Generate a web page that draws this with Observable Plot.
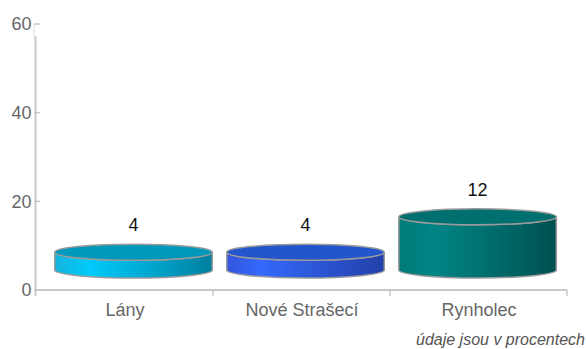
<!DOCTYPE html>
<html><head><meta charset="utf-8">
<script src="https://cdn.jsdelivr.net/npm/d3@7"></script>
<script src="https://cdn.jsdelivr.net/npm/@observablehq/plot@0.6"></script>
<style>
html,body{margin:0;padding:0;background:#fff;overflow:hidden;font-family:"Liberation Sans",Arial,sans-serif;}
#chart{width:586px;height:331px;}
#caption{width:585px;font-style:italic;font-size:16px;line-height:18px;color:#555;text-align:right;white-space:nowrap;}
</style></head><body>
<div id="chart"></div>
<div id="caption"></div>
<script>
const categories = ["Lány", "Nové Strašecí", "Rynholec"];
const values = [4, 4, 12];
const yTicks = [0, 20, 40, 60];
const captionText = "údaje jsou v procentech";
const sideLeft  = ["#14b2da", "#3356dc", "#007a7a"];
const sideLight = ["#00cbfc", "#3468fc", "#008585"];
const sideDark  = ["#00809f", "#2240a8", "#005050"];
const topFill   = ["#0099bb", "#2355cc", "#006f6f"];

const data = categories.map((c, i) => ({cat: c, value: values[i], i}));

function decor(index, scales) {
  const x = scales.x, y = scales.y;
  const bw = x.bandwidth();
  const g = d3.create("svg:g");
  const axisColor = "#c9c9c9";
  g.append("line").attr("x1", 35.5).attr("x2", 35.5)
    .attr("y1", y(60) + 12).attr("y2", y(0) + 6)
    .attr("stroke", axisColor).attr("stroke-width", 2);
  g.append("line").attr("x1", 34).attr("x2", 34)
    .attr("y1", y(60)).attr("y2", y(60) + 12)
    .attr("stroke", "#ddd").attr("stroke-width", 1);
  for (const t of yTicks) {
    g.append("line").attr("x1", 34).attr("x2", 40)
      .attr("y1", y(t)).attr("y2", y(t))
      .attr("stroke", axisColor).attr("stroke-width", 1.5);
  }
  const x0 = x(categories[0]);
  const xEnd = x(categories[categories.length - 1]) + bw;
  g.append("line").attr("x1", x0).attr("x2", xEnd)
    .attr("y1", y(0)).attr("y2", y(0))
    .attr("stroke", axisColor).attr("stroke-width", 2);
  categories.forEach((c) => {
    const xb = x(c) + bw;
    g.append("line").attr("x1", xb).attr("x2", xb)
      .attr("y1", y(0)).attr("y2", y(0) + 6)
      .attr("stroke", axisColor).attr("stroke-width", 1.5);
  });
  return g.node();
}

function cylinders(index, scales) {
  const x = scales.x, y = scales.y;
  const bw = x.bandwidth();
  const g = d3.create("svg:g");
  const defs = g.append("defs");
  const depthY = 20, ry = 8, vp = 445, k = 0.028;
  data.forEach((d, i) => {
    const c = x(d.cat) + bw / 2;
    const cx = c + (vp - c) * k;
    const rx = bw * 0.445;
    const yb = y(0) - depthY;
    const yt = y(d.value) - depthY;
    const gid = "cylgrad" + i;
    const lg = defs.append("linearGradient").attr("id", gid)
      .attr("x1", "0").attr("x2", "1").attr("y1", "0").attr("y2", "0");
    lg.append("stop").attr("offset", "0").attr("stop-color", sideLeft[i]);
    lg.append("stop").attr("offset", "0.22").attr("stop-color", sideLight[i]);
    lg.append("stop").attr("offset", "1").attr("stop-color", sideDark[i]);
    const path = `M${cx - rx},${yt} L${cx - rx},${yb} A${rx},${ry} 0 0 0 ${cx + rx},${yb} L${cx + rx},${yt} A${rx},${ry} 0 0 1 ${cx - rx},${yt} Z`;
    g.append("path").attr("d", path).attr("fill", `url(#${gid})`)
      .attr("stroke", "#9a9a9a").attr("stroke-width", 1.5);
    g.append("ellipse").attr("cx", cx).attr("cy", yt).attr("rx", rx).attr("ry", ry)
      .attr("fill", topFill[i]).attr("stroke", "#9a9a9a").attr("stroke-width", 1.5);
    g.append("text").attr("x", cx).attr("y", yt - ry - 13)
      .attr("text-anchor", "middle").attr("fill", "#111")
      .attr("font-size", 18).text(String(d.value));
  });
  return g.node();
}

const chart = Plot.plot({
  width: 586,
  height: 331,
  marginTop: 24,
  marginBottom: 41,
  marginLeft: 36,
  marginRight: 19,
  x: {domain: categories, padding: 0},
  y: {domain: [0, 60]},
  style: {fontFamily: "'Liberation Sans', Arial, sans-serif", fontSize: "18px", color: "#666", background: "#fff"},
  marks: [
    Plot.barY(data, {x: "cat", y: "value", fill: "none", stroke: "none"}),
    decor,
    Plot.axisY({ticks: yTicks, tickSize: 0, tickPadding: 5, fontSize: 18, label: null}),
    Plot.axisX({tickSize: 0, tickPadding: 13, fontSize: 18, label: null}),
    cylinders
  ]
});
document.getElementById("chart").appendChild(chart);
document.getElementById("caption").textContent = captionText;
</script>
</body></html>
